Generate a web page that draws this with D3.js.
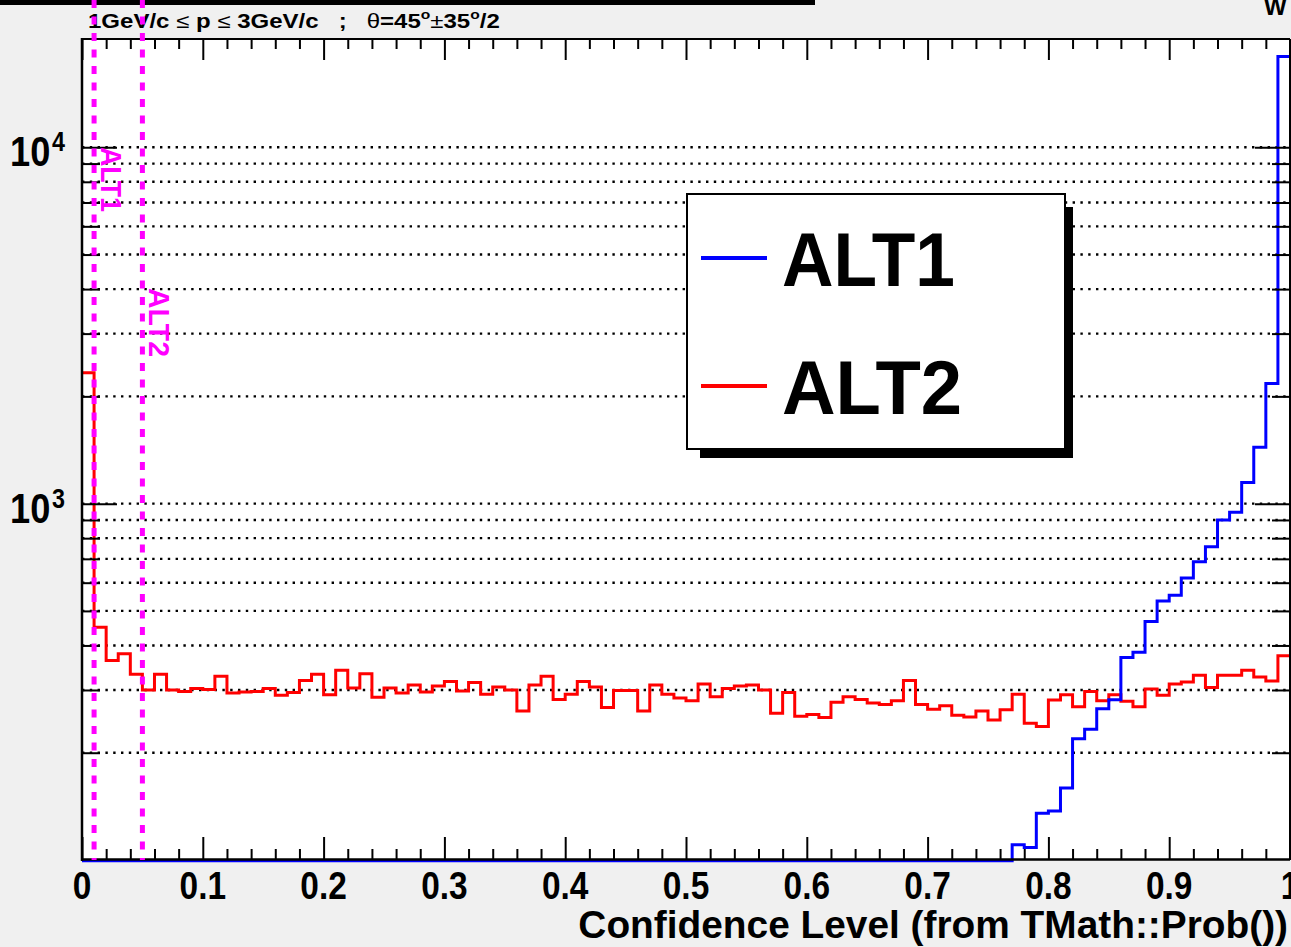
<!DOCTYPE html>
<html>
<head>
<meta charset="utf-8">
<script src="https://cdn.jsdelivr.net/npm/d3@7"></script>
<style>
html, body { margin: 0; padding: 0; background: #f0f0f0; overflow: hidden; }
svg { display: block; }
text { font-family: "Liberation Sans", Arial, Helvetica, sans-serif; }
</style>
</head>
<body>
<div id="chart"></div>
<script>
const width = 1291, height = 947;

// 100 bins of width 0.01 between 0 and 1
const binCount = 100;

// ALT2 (red) bin contents
const alt2Counts = [
    2331, 450, 363, 379, 332, 300, 332, 300, 297, 303,
    301, 328, 294, 296, 297, 303, 290, 295, 319, 332,
    291, 341, 304, 333, 286, 304, 294, 310, 296, 308,
    317, 298, 315, 292, 306, 300, 262, 310, 328, 282,
    292, 317, 306, 268, 299, 299, 262, 310, 292, 285,
    280, 312, 287, 303, 308, 310, 300, 258, 295, 253,
    256, 251, 277, 287, 282, 276, 273, 280, 319, 273,
    265, 271, 255, 252, 262, 247, 264, 292, 242, 237,
    281, 291, 269, 297, 280, 291, 279, 269, 302, 290,
    312, 316, 330, 305, 330, 330, 341, 326, 318, 374
];

// ALT1 (blue) bin contents
const alt1Counts = [
    0, 0, 0, 0, 0, 0, 0, 0, 0, 0,
    0, 0, 0, 0, 0, 0, 0, 0, 0, 0,
    0, 0, 0, 0, 0, 0, 0, 0, 0, 0,
    0, 0, 0, 0, 0, 0, 0, 0, 0, 0,
    0, 0, 0, 0, 0, 0, 0, 0, 0, 0,
    0, 0, 0, 0, 0, 0, 0, 0, 0, 0,
    0, 0, 0, 0, 0, 0, 0, 0, 0, 0,
    0, 0, 0, 0, 0, 0, 0, 111, 109, 136,
    138, 160, 220, 234, 267, 283, 372, 385, 469, 536,
    556, 622, 690, 761, 905, 951, 1153, 1448, 2183, 18080
];

const xMajorTicks = [0, 0.1, 0.2, 0.3, 0.4, 0.5, 0.6, 0.7, 0.8, 0.9, 1];
const xTickLabels = ["0", "0.1", "0.2", "0.3", "0.4", "0.5", "0.6", "0.7", "0.8", "0.9", "1"];
const xMinorTicks = [0.02, 0.04, 0.06, 0.08, 0.12, 0.14, 0.16, 0.18, 0.22, 0.24, 0.26, 0.28,
    0.32, 0.34, 0.36, 0.38, 0.42, 0.44, 0.46, 0.48, 0.52, 0.54, 0.56, 0.58,
    0.62, 0.64, 0.66, 0.68, 0.72, 0.74, 0.76, 0.78, 0.82, 0.84, 0.86, 0.88,
    0.92, 0.94, 0.96, 0.98];

const yMajorTicks = [1000, 10000];
const yLabelBase = ["10", "10"];
const yLabelExp = ["3", "4"];
const yMinorTicks = [200, 300, 400, 500, 600, 700, 800, 900,
    2000, 3000, 4000, 5000, 6000, 7000, 8000, 9000];

const cutValues = [0.01, 0.05];
const cutLabels = ["ALT1", "ALT2"];

const seriesNames = ["ALT1", "ALT2"];
const seriesColors = ["#0000ff", "#ff0000"];

const svg = d3.select("#chart").append("svg")
    .attr("width", width)
    .attr("height", height);

svg.append("rect")
    .attr("width", width).attr("height", height)
    .attr("fill", "#f0f0f0");

const x = d3.scaleLinear().domain([0, 1]).range([82, 1290]);
const y = d3.scaleLog().domain([100, 20130]).range([860, 39]);

// squeeze text horizontally to a given width (ROOT fonts render narrow)
function fitText(g, target) {
    const w = g.node().getBBox().width;
    const t = g.attr("data-t");
    g.attr("transform", `${t} scale(${target / w},1)`);
}
function textGroup(parent, transform) {
    return parent.append("g").attr("data-t", transform).attr("transform", transform);
}

// plot area
svg.append("rect")
    .attr("x", x(0)).attr("y", y.range()[1])
    .attr("width", x(1) - x(0)).attr("height", y.range()[0] - y.range()[1])
    .attr("fill", "white");

// horizontal grid
svg.append("g").selectAll("line")
    .data(yMinorTicks.concat(yMajorTicks))
    .enter().append("line")
    .attr("x1", x(0)).attr("x2", x(1))
    .attr("y1", d => y(d)).attr("y2", d => y(d))
    .attr("stroke", "black")
    .attr("stroke-width", 2.4)
    .attr("stroke-dasharray", "2.4,5.4");

// histograms
svg.append("clipPath").attr("id", "plotclip")
    .append("rect").attr("x", x(0)).attr("y", 36)
    .attr("width", x(1) - x(0) + 2).attr("height", 830);

const stepLine = d3.line()
    .x(d => x(d[0]))
    .y(d => y(Math.max(d[1], y.domain()[0])))
    .curve(d3.curveStepAfter);

function histPoints(counts) {
    const pts = counts.map((c, i) => [i / binCount, c]);
    pts.push([1, counts[counts.length - 1]]);
    return pts;
}

const hists = svg.append("g").attr("clip-path", "url(#plotclip)");
hists.append("path")
    .attr("d", stepLine(histPoints(alt2Counts)))
    .attr("fill", "none").attr("stroke", seriesColors[1]).attr("stroke-width", 3);
hists.append("path")
    .attr("d", stepLine(histPoints(alt1Counts)))
    .attr("transform", "translate(0,0.8)")
    .attr("fill", "none").attr("stroke", seriesColors[0]).attr("stroke-width", 3);

// axes (ticks pointing inward)
const tickStyle = g => {
    g.select(".domain").remove();
    g.selectAll("line").attr("stroke", "black").attr("stroke-width", 2);
    g.selectAll("text").remove();
};
svg.append("g").attr("transform", `translate(0,${y.range()[0]})`)
    .call(d3.axisBottom(x).tickValues(xMajorTicks).tickSize(-23)).call(tickStyle);
svg.append("g").attr("transform", `translate(0,${y.range()[0]})`)
    .call(d3.axisBottom(x).tickValues(xMinorTicks).tickSize(-11)).call(tickStyle);
svg.append("g").attr("transform", `translate(0,${y.range()[1]})`)
    .call(d3.axisTop(x).tickValues(xMajorTicks).tickSize(-21)).call(tickStyle);
svg.append("g").attr("transform", `translate(0,${y.range()[1]})`)
    .call(d3.axisTop(x).tickValues(xMinorTicks).tickSize(-10)).call(tickStyle);
svg.append("g").attr("transform", `translate(${x(0)},0)`)
    .call(d3.axisLeft(y).tickValues(yMajorTicks).tickSize(-35)).call(tickStyle);
svg.append("g").attr("transform", `translate(${x(0)},0)`)
    .call(d3.axisLeft(y).tickValues(yMinorTicks).tickSize(-18)).call(tickStyle);
svg.append("g").attr("transform", `translate(${x(1)},0)`)
    .call(d3.axisRight(y).tickValues(yMajorTicks).tickSize(-35)).call(tickStyle);
svg.append("g").attr("transform", `translate(${x(1)},0)`)
    .call(d3.axisRight(y).tickValues(yMinorTicks).tickSize(-18)).call(tickStyle);

// frame
svg.append("line").attr("x1", x(0)).attr("x2", x(0)).attr("y1", y.range()[1] - 1).attr("y2", y.range()[0] + 1)
    .attr("stroke", "black").attr("stroke-width", 2.5);
svg.append("line").attr("x1", x(0)).attr("x2", x(1)).attr("y1", y.range()[0] - 0.5).attr("y2", y.range()[0] - 0.5)
    .attr("stroke", "black").attr("stroke-width", 2.5);
svg.append("line").attr("x1", x(0)).attr("x2", x(1)).attr("y1", y.range()[1]).attr("y2", y.range()[1])
    .attr("stroke", "black").attr("stroke-width", 2);
svg.append("line").attr("x1", x(1)).attr("x2", x(1)).attr("y1", y.range()[1]).attr("y2", y.range()[0])
    .attr("stroke", "black").attr("stroke-width", 2);

// x tick labels
xMajorTicks.forEach((v, i) => {
    textGroup(svg, `translate(${x(v)},899) scale(0.88,1)`)
        .append("text")
        .attr("text-anchor", "middle")
        .attr("font-size", 38).attr("font-weight", "bold")
        .text(xTickLabels[i]);
});

// y tick labels 10^n
yMajorTicks.forEach((v, i) => {
    const g = textGroup(svg, `translate(10,${y(v) + 19})`);
    const t = g.append("text").attr("font-size", 42).attr("font-weight", "bold");
    t.append("tspan").text(yLabelBase[i]);
    t.append("tspan").attr("font-size", 27).attr("dy", -15).attr("dx", 2).text(yLabelExp[i]);
    fitText(g, 55);
});

// x axis title
const xTitle = textGroup(svg, "translate(1288,938)");
xTitle.append("text")
    .attr("text-anchor", "end")
    .attr("font-size", 38).attr("font-weight", "bold")
    .text("Confidence Level (from TMath::Prob())");
fitText(xTitle, 710);

// title box remains at top
svg.append("rect").attr("x", 0).attr("y", 0).attr("width", 815).attr("height", 5).attr("fill", "black");
svg.append("text").attr("x", 1264).attr("y", 15)
    .attr("font-size", 24).attr("font-weight", "bold").text("W");

// cut description
const cutTitle = textGroup(svg, "translate(88,28)");
const ct = cutTitle.append("text").attr("font-size", 20).attr("font-weight", "bold");
ct.append("tspan").text("1GeV/c\u00a0");
ct.append("tspan").attr("font-weight", "normal").text("\u2264");
ct.append("tspan").text("\u00a0p\u00a0");
ct.append("tspan").attr("font-weight", "normal").text("\u2264");
ct.append("tspan").text("\u00a03GeV/c\u00a0\u00a0\u00a0;\u00a0\u00a0\u00a0");
ct.append("tspan").attr("font-weight", "normal").text("\u03b8");
ct.append("tspan").text("=45");
ct.append("tspan").attr("font-size", 13).attr("dy", -9).text("o");
ct.append("tspan").attr("font-weight", "normal").attr("dy", 9).text("\u00b1");
ct.append("tspan").text("35");
ct.append("tspan").attr("font-size", 13).attr("dy", -9).text("o");
ct.append("tspan").attr("dy", 9).text("/2");
fitText(cutTitle, 412);

// legend
svg.append("rect").attr("x", 700).attr("y", 207).attr("width", 373).attr("height", 251).attr("fill", "black");
svg.append("rect").attr("x", 687).attr("y", 194).attr("width", 378).attr("height", 255)
    .attr("fill", "white").attr("stroke", "black").attr("stroke-width", 2);
const legendRows = [258, 386];
const legendWidths = [173, 180];
seriesNames.forEach((name, i) => {
    svg.append("line")
        .attr("x1", 701).attr("x2", 767)
        .attr("y1", legendRows[i]).attr("y2", legendRows[i])
        .attr("stroke", seriesColors[i]).attr("stroke-width", 4);
    const g = textGroup(svg, `translate(782,${legendRows[i] + 28})`);
    g.append("text").attr("font-size", 76).attr("font-weight", "bold").text(name);
    fitText(g, legendWidths[i]);
});

// cut lines
const cutLabelTop = [147, 288];
const cutLabelLen = [65, 69];
cutValues.forEach((v, i) => {
    svg.append("line")
        .attr("x1", x(v)).attr("x2", x(v))
        .attr("y1", 0).attr("y2", y.range()[0])
        .attr("stroke", "#ff00ff")
        .attr("stroke-width", 5)
        .attr("stroke-dasharray", "8,8.5");
    const g = textGroup(svg, `translate(${x(v) + 7},${cutLabelTop[i]}) rotate(90)`);
    g.append("text").attr("font-size", 30).attr("font-weight", "bold")
        .attr("fill", "#ff00ff").text(cutLabels[i]);
    fitText(g, cutLabelLen[i]);
});
</script>
</body>
</html>
